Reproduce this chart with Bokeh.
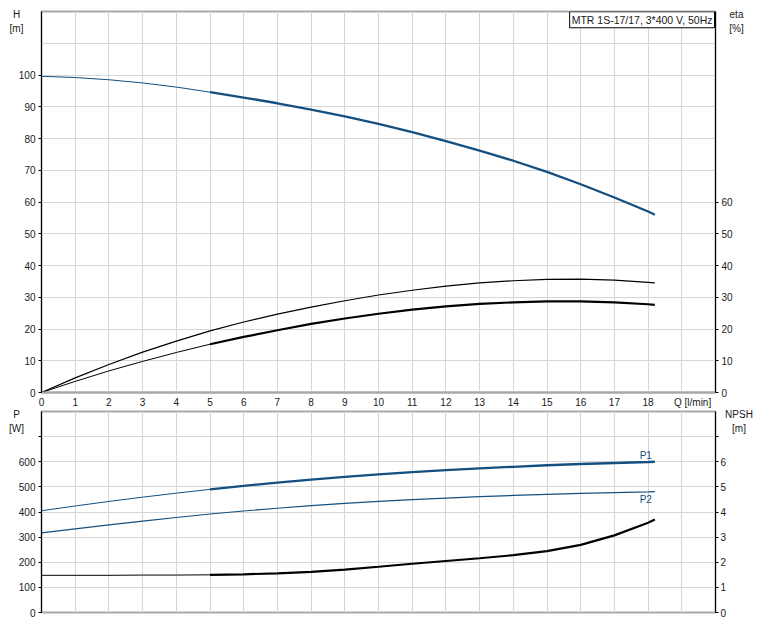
from bokeh.plotting import figure
from bokeh.layouts import column
from bokeh.models import Range1d, LinearAxis, FixedTicker, Label
from bokeh.embed import file_html
from bokeh.resources import INLINE

# ---------------- data ----------------
Q = [0, 1, 2, 3, 4, 5, 6, 7, 8, 9, 10, 11, 12, 13, 14, 15, 16, 17, 18, 18.2]
H = [99.6, 99.2, 98.5, 97.5, 96.2, 94.6, 92.9, 91.1, 89.1, 87.0, 84.6, 82.0,
     79.2, 76.2, 73.0, 69.5, 65.6, 61.4, 57.0, 56.0]
ETA_UPPER = [0, 4.6, 8.8, 12.7, 16.2, 19.4, 22.2, 24.7, 26.9, 28.9, 30.7, 32.2,
             33.5, 34.5, 35.2, 35.6, 35.7, 35.4, 34.7, 34.5]
ETA_LOWER = [0, 3.5, 6.8, 9.8, 12.6, 15.2, 17.5, 19.6, 21.6, 23.3, 24.8, 26.1,
             27.1, 27.9, 28.4, 28.7, 28.7, 28.4, 27.8, 27.6]
P1 = [405, 424, 442, 459, 475, 490, 504, 517, 529, 540, 550, 559, 567, 574,
      580, 586, 591, 595, 599, 600]
P2 = [317, 333, 349, 364, 378, 392, 404, 415, 425, 434, 442, 449, 455, 461,
      466, 470, 474, 477, 480, 481]
NPSH = [1.48, 1.48, 1.48, 1.49, 1.49, 1.50, 1.52, 1.56, 1.62, 1.71, 1.82, 1.94,
        2.05, 2.16, 2.28, 2.44, 2.69, 3.07, 3.57, 3.70]
SPLIT = 5  # index where the duty range (thick part) starts: Q = 5

X_TICKS = list(range(0, 19))
Q_LABEL_POS = 19.32
X_GRID = list(range(0, 21))
H_TICKS = list(range(0, 101, 10))
H_GRID = list(range(0, 121, 10))
ETA_TICKS = list(range(0, 61, 10))
P_TICKS = list(range(0, 701, 100))
P_GRID = list(range(0, 801, 100))
NPSH_TICKS = list(range(0, 8))

TITLE = "MTR 1S-17/17, 3*400 V, 50Hz"

# ---------------- style ----------------
FONT = "Liberation Sans"
BLUE = "#134f80"
GRID = "#d6d6d6"
FRAME = "#a8a8a8"
TXT = "#1a1a1a"


def style_axis(ax, color="#000000", width=1.0):
    ax.axis_line_color = color
    ax.axis_line_width = width
    ax.major_tick_line_color = color
    ax.major_tick_out = 3
    ax.major_tick_in = 0
    ax.minor_tick_line_color = None
    ax.major_label_text_font = FONT
    ax.major_label_text_font_size = "10px"
    ax.major_label_text_color = TXT
    ax.major_label_standoff = 3


def make_label(x, y, text, color=TXT, align="center", size="10px", units="canvas", **kw):
    return Label(x=x, y=y, text=text, text_font=FONT, text_font_size=size,
                 x_units=units, y_units=units, text_line_height=1.2,
                 text_color=color, text_align=align, text_baseline="middle", **kw)


def base_fig(height, y_range, mbt, mbb):
    p = figure(width=757, height=height, x_range=Range1d(0, 20), y_range=y_range,
               output_backend="svg", toolbar_location=None,
               min_border_left=40, min_border_right=42,
               min_border_top=mbt, min_border_bottom=mbb)
    p.outline_line_color = FRAME
    p.outline_line_width = 2
    p.background_fill_color = "white"
    p.border_fill_color = "white"
    p.xgrid.ticker = FixedTicker(ticks=X_GRID)
    p.xgrid.grid_line_color = GRID
    p.ygrid.grid_line_color = GRID
    return p


# ---------------- top: H and eta ----------------
top = base_fig(410, Range1d(0, 120), 11, 18)
top.ygrid.ticker = FixedTicker(ticks=H_GRID)
top.xaxis.ticker = FixedTicker(ticks=X_TICKS + [Q_LABEL_POS])
top.xaxis.major_label_overrides = {Q_LABEL_POS: "Q [l/min]"}
style_axis(top.xaxis[0], color=FRAME, width=2)
top.xaxis.major_tick_out = 0
top.xaxis.major_label_standoff = 4
top.yaxis.ticker = FixedTicker(ticks=H_TICKS)
style_axis(top.yaxis[0])

top.extra_y_ranges = {"eta": Range1d(0, 120)}
eta_ax = LinearAxis(y_range_name="eta", ticker=FixedTicker(ticks=ETA_TICKS))
style_axis(eta_ax)
top.add_layout(eta_ax, "right")

top.line(Q[:SPLIT + 1], H[:SPLIT + 1], line_color=BLUE, line_width=1)
top.line(Q[SPLIT:], H[SPLIT:], line_color=BLUE, line_width=2.3)
top.line(Q, ETA_UPPER, line_color="black", line_width=1.2, y_range_name="eta")
top.line(Q[:SPLIT + 1], ETA_LOWER[:SPLIT + 1], line_color="black", line_width=1,
         y_range_name="eta")
top.line(Q[SPLIT:], ETA_LOWER[SPLIT:], line_color="black", line_width=2.2,
         y_range_name="eta")

top.add_layout(make_label(16, 21, "H\n[m]"), "left")
top.add_layout(make_label(736, 21, "eta\n[%]"), "right")
top.add_layout(make_label(20, 117.4, TITLE, align="right", size="10.5px", units="data",
                          x_offset=-1, border_line_color="black", border_line_width=1,
                          background_fill_color="white", padding=2))

# ---------------- bottom: P and NPSH ----------------
bot = base_fig(209, Range1d(0, 800), 1, 7)
bot.x_range = top.x_range
bot.xaxis.visible = False
bot.ygrid.ticker = FixedTicker(ticks=P_GRID)
bot.yaxis.ticker = FixedTicker(ticks=P_TICKS)
bot.yaxis.major_label_overrides = {700: ""}
style_axis(bot.yaxis[0])

bot.extra_y_ranges = {"npsh": Range1d(0, 8)}
npsh_ax = LinearAxis(y_range_name="npsh", ticker=FixedTicker(ticks=NPSH_TICKS),
                     major_label_overrides={7: ""})
style_axis(npsh_ax)
npsh_ax.major_label_standoff = 2
bot.add_layout(npsh_ax, "right")

bot.line(Q[:SPLIT + 1], P1[:SPLIT + 1], line_color=BLUE, line_width=1)
bot.line(Q[SPLIT:], P1[SPLIT:], line_color=BLUE, line_width=2.3)
bot.line(Q, P2, line_color=BLUE, line_width=1.2)
bot.line(Q[:SPLIT + 1], NPSH[:SPLIT + 1], line_color="black", line_width=1,
         y_range_name="npsh")
bot.line(Q[SPLIT:], NPSH[SPLIT:], line_color="black", line_width=2.2,
         y_range_name="npsh")

bot.add_layout(make_label(17.93, 625, "P1", color=BLUE, units="data"))
bot.add_layout(make_label(17.93, 450, "P2", color=BLUE, units="data"))
bot.add_layout(make_label(16, 11, "P\n[W]"), "left")
bot.add_layout(make_label(738.5, 11, "NPSH\n[m]"), "right")

layout = column(top, bot, spacing=0)
open("out.html", "w").write(file_html(layout, INLINE))
